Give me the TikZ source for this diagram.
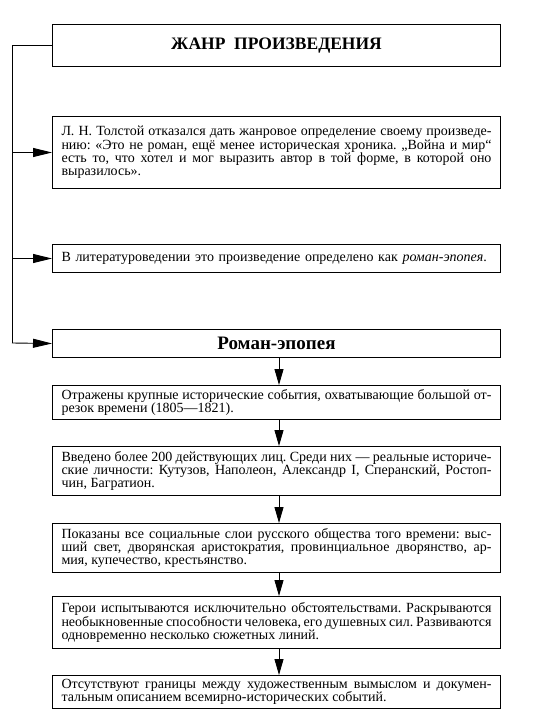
\documentclass[tikz,border=0pt]{standalone}
\usepackage{fontspec}
\setmainfont{Liberation Serif}
\usetikzlibrary{arrows.meta}
\begin{document}
\frenchspacing
\begin{tikzpicture}[x=1pt,y=-1pt,
  box/.style={draw, line width=1pt, anchor=north west, inner xsep=9pt, inner ysep=2pt,
    text width=430pt, align=justify, font=\frenchspacing\fontsize{14}{13.3}\selectfont},
  head/.style={draw, line width=1pt, anchor=north west, minimum width=448pt,
    font=\bfseries\fontsize{17.5}{20}\selectfont},
  conn/.style={line width=0.9pt},
  larr/.style={conn, -{Triangle[length=19pt,width=9pt]}},
  darr/.style={conn, -{Triangle[length=16pt,width=9pt]}}]
\useasboundingbox[fill=white] (0,0) rectangle (545,717);

\node[head, minimum height=42pt] (title) at (52,24) {ЖАНР\ \ ПРОИЗВЕДЕНИЯ};

\node[box, minimum height=72pt] (b2) at (52,116) {Л.~Н. Толстой отказался дать жанровое определение своему произведе-\linebreak нию: «Это не роман, ещё менее историческая хроника. „Война и мир“\linebreak есть то, что хотел и мог выразить автор в той форме, в которой оно\linebreak выразилось».};

\node[box, align=left, minimum height=28pt] (b3) at (52,244) {В литературоведении это произведение определено как \textit{роман-эпопея}.};

\node[head, minimum height=28pt, font=\bfseries\fontsize{19}{20}\selectfont] (roman) at (52,329) {Роман-эпопея};

\node[box, minimum height=34pt] (b5) at (52,385) {Отражены крупные исторические события, охватывающие большой от-\linebreak резок времени (1805—1821).};

\node[box, minimum height=49pt] (b6) at (52,446) {Введено более 200 действующих лиц. Среди них — реальные историче-\linebreak ские личности: Кутузов, Наполеон, Александр I, Сперанский, Ростоп-\linebreak чин, Багратион.};

\node[box, minimum height=49pt] (b7) at (52,523) {Показаны все социальные слои русского общества того времени: выс-\linebreak ший свет, дворянская аристократия, провинциальное дворянство, ар-\linebreak мия, купечество, крестьянство.};

\node[box, minimum height=52pt] (b8) at (52,596) {Герои испытываются исключительно обстоятельствами. Раскрываются\linebreak необыкновенные способности человека, его душевных сил. Развиваются\linebreak одновременно несколько сюжетных линий.};

\node[box, minimum height=33pt] (b9) at (52,675) {Отсутствуют границы между художественным вымыслом и докумен-\linebreak тальным описанием всемирно-исторических событий.};

\coordinate (bus) at (12,343);
\coordinate (ax) at (279,0);

\draw[conn] (title.west) -| (bus);
\draw[larr] (bus) -- (roman.west);
\draw[larr] (b2.west -| bus) -- (b2.west);
\draw[larr] (b3.west -| bus) -- (b3.west);

\draw[darr] (roman.south -| ax) -- (b5.north -| ax);
\draw[darr] (b5.south -| ax) -- (b6.north -| ax);
\draw[darr] (b6.south -| ax) -- (b7.north -| ax);
\draw[darr] (b7.south -| ax) -- (b8.north -| ax);
\draw[darr] (b8.south -| ax) -- (b9.north -| ax);
\end{tikzpicture}
\end{document}
